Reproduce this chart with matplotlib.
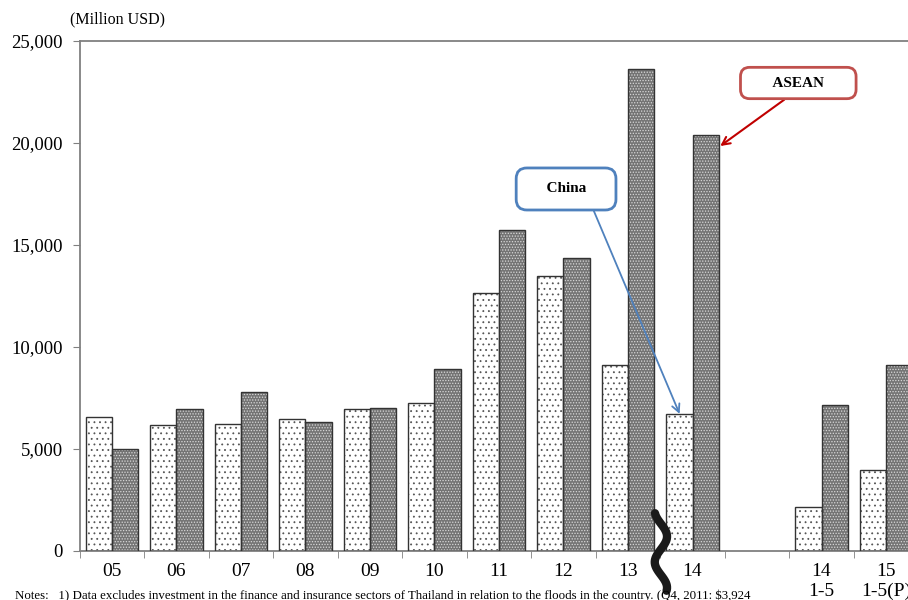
import numpy as np
import matplotlib.pyplot as plt
from matplotlib.path import Path
from matplotlib.patches import PathPatch
import matplotlib.transforms as mtransforms

plt.rcParams['font.family'] = ['Liberation Serif', 'DejaVu Serif']
plt.rcParams['hatch.linewidth'] = 0.6

# outward FDI, million USD
labels = ['05', '06', '07', '08', '09', '10', '11', '12', '13', '14', '',
          '14\n1-5', '15\n1-5(P)']
china = [6570, 6180, 6230, 6470, 6960, 7250, 12650, 13480, 9120, 6720, np.nan,
         2160, 3970]
asean = [5000, 6960, 7790, 6320, 7010, 8920, 15740, 14360, 23630, 20390, np.nan,
         7160, 9120]

fig = plt.figure(figsize=(9.08, 6.0), dpi=100)
ax = fig.add_axes([0.0878, 0.0817, 0.9235, 0.85])

x = np.arange(len(labels))
w = 0.41

# fill + hatch first, outline on top
ax.bar(x - w / 2, china, w, color='white', hatch='...', edgecolor='#555555',
       linewidth=0, zorder=2)
ax.bar(x - w / 2, china, w, fill=False, edgecolor='#333333', linewidth=1.0, zorder=3)
ax.bar(x + w / 2, asean, w, color='#747474', hatch='......', edgecolor='#d8d8d8',
       linewidth=0, zorder=2)
ax.bar(x + w / 2, asean, w, fill=False, edgecolor='#333333', linewidth=1.0, zorder=3)

ax.set_xlim(-0.5, len(labels) - 0.5)
ax.set_ylim(0, 25000)
ax.set_yticks(range(0, 25001, 5000))
ax.set_yticklabels([f'{v:,}' for v in range(0, 25001, 5000)], fontsize=13.5)
ax.set_xticks(x)
ax.set_xticklabels(labels, fontsize=14)
ax.set_xticks(np.arange(-0.5, len(labels), 1), minor=True)
ax.tick_params(axis='x', which='major', length=0, pad=9)
ax.tick_params(axis='x', which='minor', length=5, color='#808080', direction='out')
ax.tick_params(axis='y', length=5, color='#808080', pad=7)

for s in ['left', 'bottom', 'top', 'right']:
    ax.spines[s].set_color('#808080')
    ax.spines[s].set_linewidth(1.3)

fig.text(0.077, 0.968, '(Million USD)', fontsize=11.5, ha='left', va='center')

# callouts
ax.annotate('    China    ', xy=(8.8, 6720), xytext=(7.04, 17745),
            fontsize=11, fontweight='bold', ha='center', va='center',
            bbox=dict(boxstyle='round,pad=0.95,rounding_size=0.7', fc='white',
                      ec='#4f81bd', lw=2),
            arrowprops=dict(arrowstyle='->', color='#4f81bd', lw=1.3,
                            relpos=(0.8, 0), shrinkA=0, shrinkB=0,
                            mutation_scale=14),
            zorder=5)
ax.annotate('      ASEAN      ', xy=(9.43, 19850), xytext=(10.64, 22940),
            fontsize=11, fontweight='bold', ha='center', va='center',
            bbox=dict(boxstyle='round,pad=0.6,rounding_size=0.6', fc='white',
                      ec='#c0504d', lw=2),
            arrowprops=dict(arrowstyle='->', color='#c00000', lw=1.5,
                            relpos=(0.5, 0), shrinkA=0, shrinkB=0,
                            mutation_scale=14),
            zorder=5)

# axis break squiggle between 13 and 14
trans = mtransforms.blended_transform_factory(ax.transData, ax.transAxes)
t = np.linspace(0, 1, 60)
brk_y = 0.074 - 0.152 * t
brk_x = 8.51 + 0.095 * np.sin(2 * np.pi * (t - 0.135) / 0.66)
ax.add_patch(PathPatch(Path(np.column_stack([brk_x, brk_y])), fill=False, lw=6,
                       ec='#1a1a1a', capstyle='round', transform=trans,
                       clip_on=False, zorder=6))

fig.text(0.016, 0.017, 'Notes:   1) Data excludes investment in the finance and '
         'insurance sectors of Thailand in relation to the floods in the country. '
         '(Q4, 2011: $3,924', fontsize=9.3, ha='left', va='top')

fig.savefig('out.png', dpi=100)
